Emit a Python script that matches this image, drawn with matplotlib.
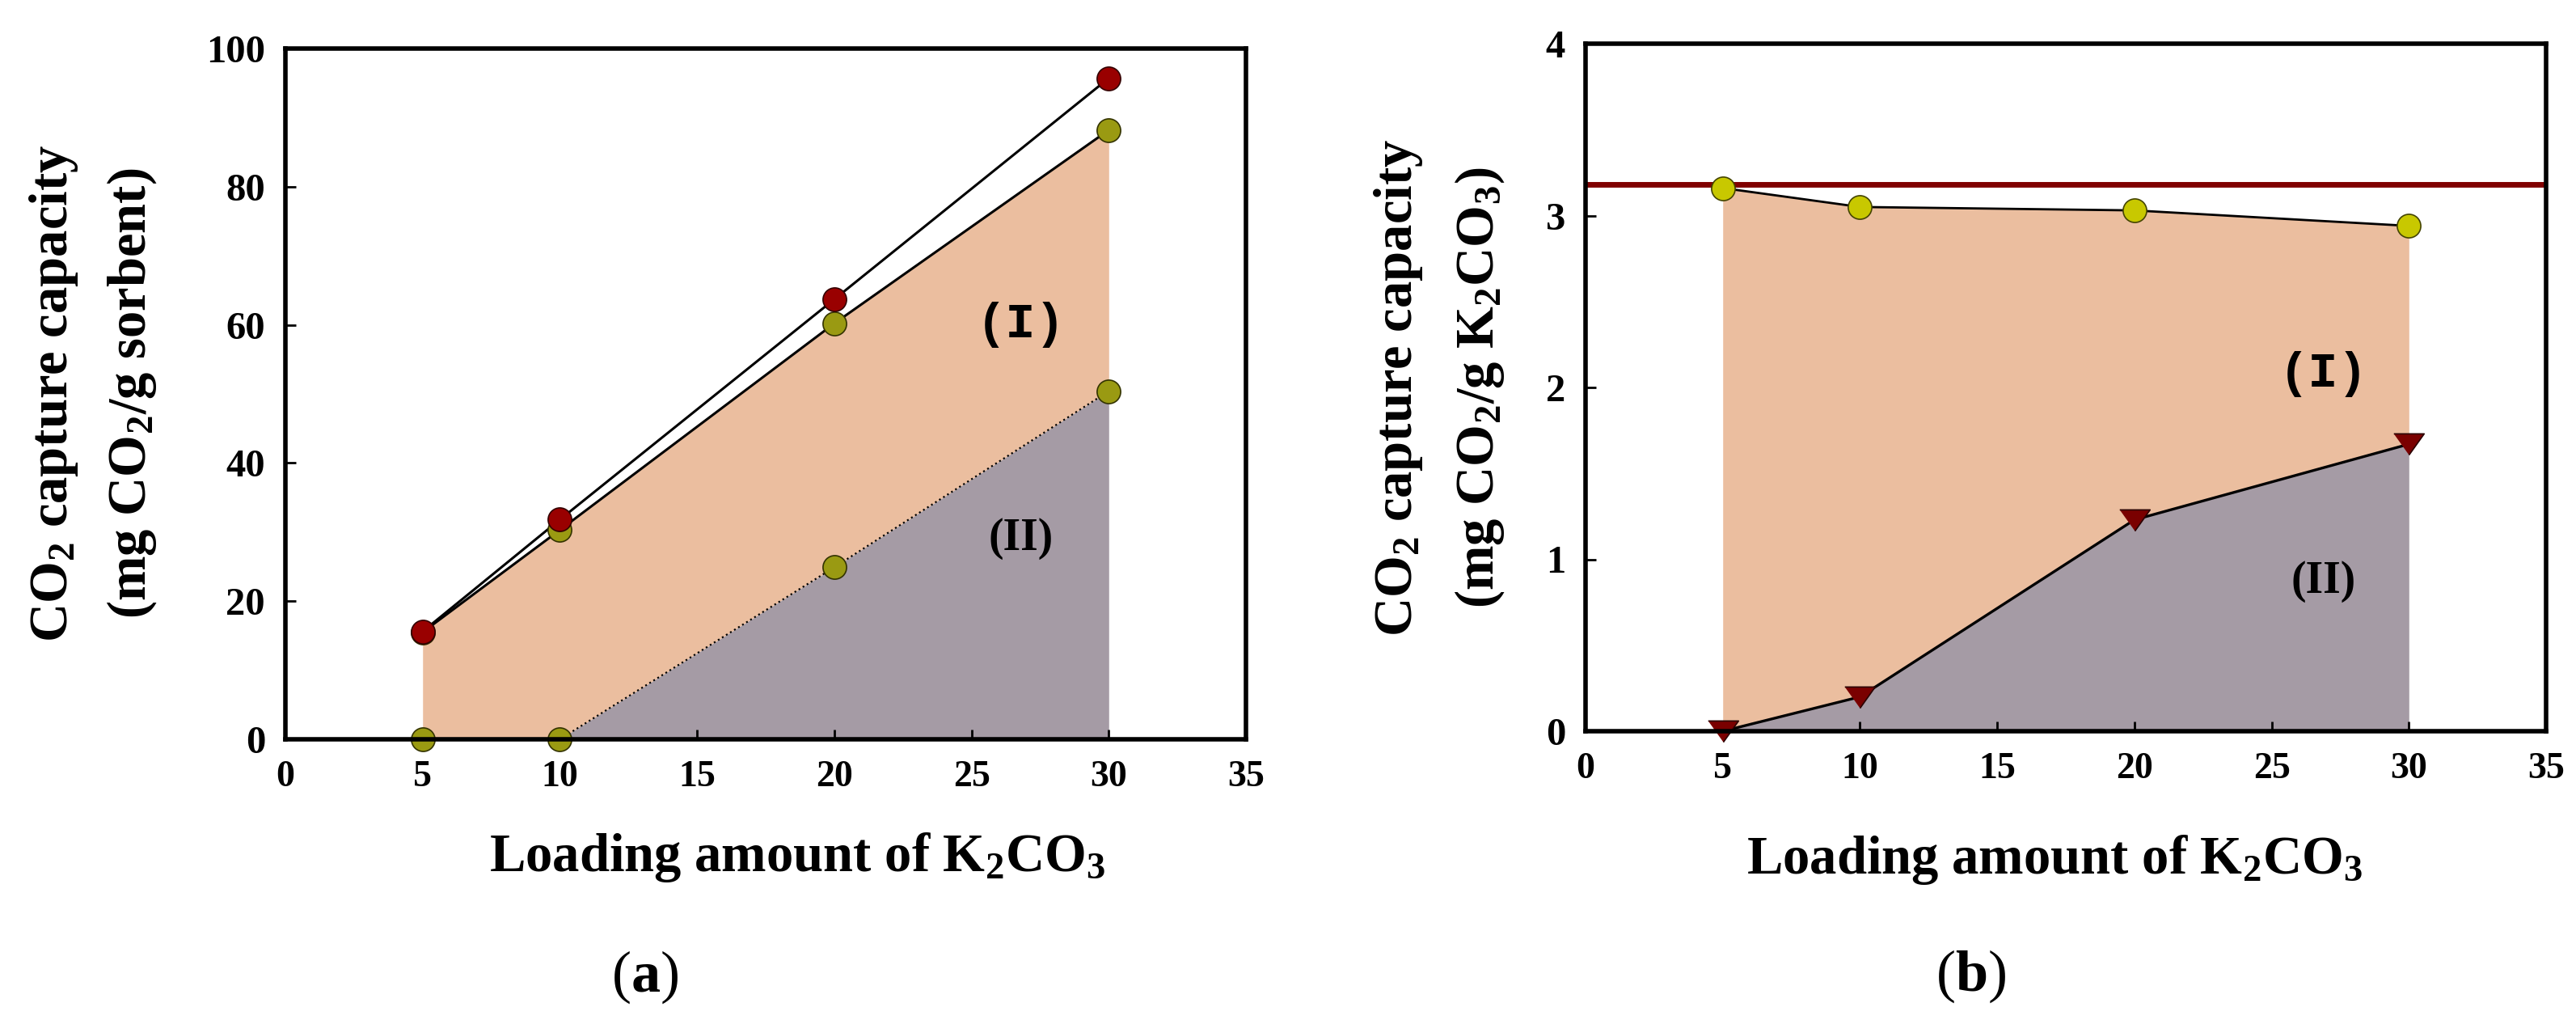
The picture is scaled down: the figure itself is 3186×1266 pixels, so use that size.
# CO2 capture capacity versus K2CO3 loading, two panels (a) and (b).

import matplotlib
matplotlib.use('Agg')
import matplotlib.pyplot as plt
from matplotlib.ticker import MultipleLocator

plt.rcParams['font.family'] = 'Liberation Serif'
plt.rcParams['font.weight'] = 'bold'
plt.rcParams['mathtext.fontset'] = 'custom'
plt.rcParams['mathtext.rm'] = 'Liberation Serif:bold'
plt.rcParams['mathtext.it'] = 'Liberation Serif:italic:bold'
plt.rcParams['mathtext.bf'] = 'Liberation Serif:bold'

# data

loading = [5, 10, 20, 30]

# panel (a): mg CO2 / g sorbent
total_a = [15.6, 31.8, 63.7, 95.7]
upper_a = [15.5, 30.3, 60.2, 88.2]
lower_a = [0.0, 0.0, 24.9, 50.4]

# panel (b): mg CO2 / g K2CO3
upper_b = [3.16, 3.05, 3.03, 2.94]
lower_b = [0.0, 0.2, 1.23, 1.67]
theory_b = 3.18

x_ticks = [0, 5, 10, 15, 20, 25, 30, 35]

orange = '#EBBE9F'
grey = '#A59BA5'
red = '#990000'
olive = '#9A9A12'
yellow = '#C8C800'

W, H = 3186, 1266
fig = plt.figure(figsize=(W / 100, H / 100), dpi=100)

ax1 = fig.add_axes([353 / W, 1 - 914 / H, (1541 - 353) / W, (914 - 60) / H])
ax2 = fig.add_axes([1961 / W, 1 - 904 / H, (3149 - 1961) / W, (904 - 54) / H])

# panel (a)
ax1.fill_between(loading, lower_a, upper_a, color=orange, lw=0, zorder=1)
ax1.fill_between(loading, 0, lower_a, color=grey, lw=0, zorder=1)
ax1.plot(loading, total_a, color='black', lw=2.2, zorder=3)
ax1.plot(loading, upper_a, color='black', lw=2.2, zorder=3)
ax1.plot(loading, lower_a, color='black', lw=1.6, ls=':', zorder=3)
ax1.plot(loading, upper_a, 'o', ms=21, mfc=olive, mec='#333300', mew=1.2, zorder=4, clip_on=False)
ax1.plot(loading, lower_a, 'o', ms=21, mfc=olive, mec='#333300', mew=1.2, zorder=4, clip_on=False)
ax1.plot(loading, total_a, 'o', ms=21, mfc=red, mec='#330000', mew=1.2, zorder=5, clip_on=False)
ax1.set_ylim(0, 100)
ax1.yaxis.set_major_locator(MultipleLocator(20))
ax1.text(26.8, 60, '(I)', family='Liberation Mono', fontsize=44, fontweight='bold',
         ha='center', va='center', zorder=6)
ax1.text(26.8, 29, '(II)', fontsize=40, fontweight='bold', ha='center', va='center', zorder=6)

# panel (b)
ax2.fill_between(loading, lower_b, upper_b, color=orange, lw=0, zorder=1)
ax2.fill_between(loading, 0, lower_b, color=grey, lw=0, zorder=1)
ax2.axhline(theory_b, color='#800000', lw=5, zorder=3)
ax2.plot(loading, upper_b, color='black', lw=2, zorder=3)
ax2.plot(loading, lower_b, color='black', lw=2.4, zorder=3)
ax2.plot(loading, upper_b, 'o', ms=21, mfc=yellow, mec='#444400', mew=1.2, zorder=4, clip_on=False)
ax2.plot(loading, lower_b, marker=[(-1, 0.7), (1, 0.7), (0, -0.7)], ls='none', ms=27,
         mfc='#7A0000', mec='#2A0000', mew=1.2, zorder=4, clip_on=False)
ax2.set_ylim(0, 4)
ax2.yaxis.set_major_locator(MultipleLocator(1))
ax2.text(26.9, 2.08, '(I)', family='Liberation Mono', fontsize=44, fontweight='bold',
         ha='center', va='center', zorder=6)
ax2.text(26.9, 0.87, '(II)', fontsize=40, fontweight='bold', ha='center', va='center', zorder=6)

for ax in (ax1, ax2):
    ax.set_xlim(0, 35)
    ax.set_xticks(x_ticks)
    for s in ax.spines.values():
        s.set_linewidth(4)
        s.set_color('black')
        s.set_zorder(7)
    ax.tick_params(direction='in', length=9, width=2, top=False, right=False)
    ax.tick_params(axis='x', labelsize=33, pad=19)
    ax.tick_params(axis='y', labelsize=35, pad=18)

# axis titles
fig.text(67 / W, 1 - 486 / H, 'CO$_2$ capture capacity', rotation=90,
         ha='center', va='center', fontsize=48)
fig.text(163 / W, 1 - 486 / H, '(mg CO$_2$/g sorbent)', rotation=90,
         ha='center', va='center', fontsize=48)
fig.text(1730 / W, 1 - 479 / H, 'CO$_2$ capture capacity', rotation=90,
         ha='center', va='center', fontsize=48)
fig.text(1830 / W, 1 - 479 / H, '(mg CO$_2$/g K$_2$CO$_3$)', rotation=90,
         ha='center', va='center', fontsize=48)
fig.text(986 / W, 1 - 1060 / H, 'Loading amount of K$_2$CO$_3$',
         ha='center', va='center', fontsize=48)
fig.text(2541 / W, 1 - 1063 / H, 'Loading amount of K$_2$CO$_3$',
         ha='center', va='center', fontsize=48)

# panel letters
fig.text(798 / W, 1 - 1208 / H, r'($\mathrm{a}$)', ha='center', va='center',
         fontsize=52, fontweight='normal')
fig.text(2438 / W, 1 - 1207 / H, r'($\mathrm{b}$)', ha='center', va='center',
         fontsize=52, fontweight='normal')

fig.savefig('out.png', dpi=100)
